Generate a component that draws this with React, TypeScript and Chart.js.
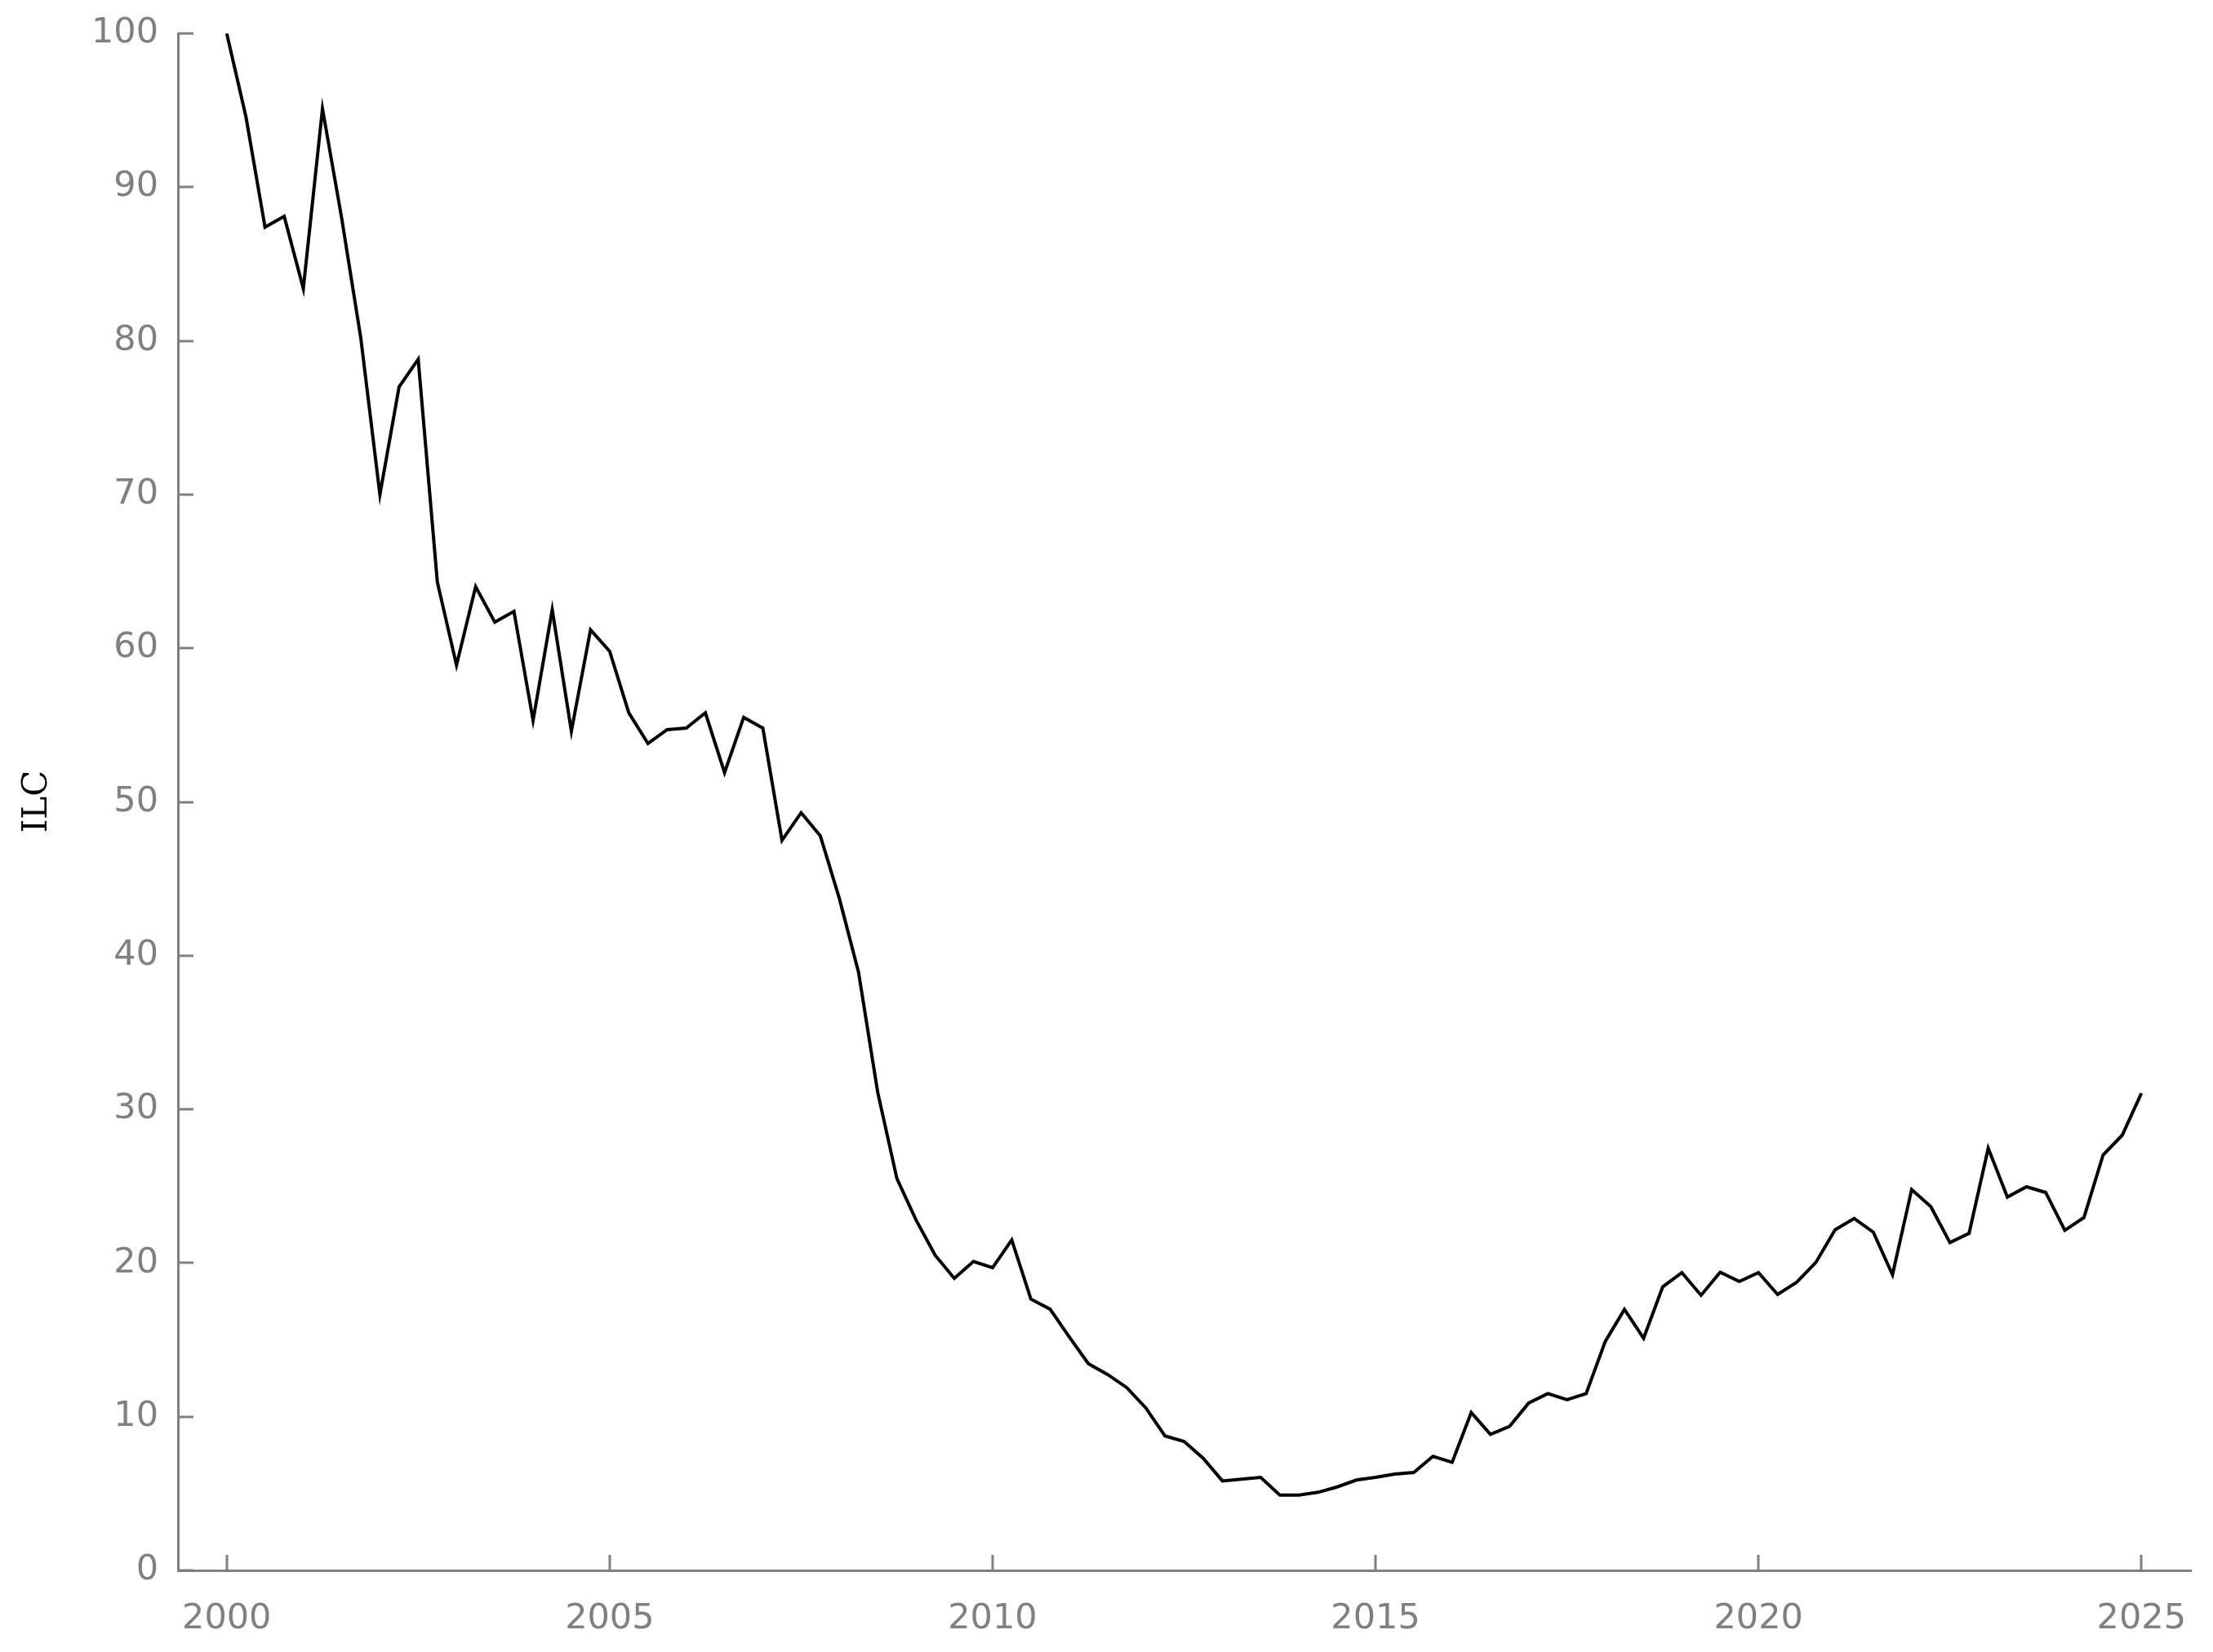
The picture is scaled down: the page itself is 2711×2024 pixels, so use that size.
import React, { useEffect, useRef } from "react";
import { Chart, registerables } from "chart.js";

Chart.register(...registerables);

// Quarterly ILC index values, 2000 Q1 to 2025 Q1
const ilcValues: number[] = [
  100, 94.6, 87.4, 88.1, 83.4, 95.1, 88.0, 80.2, 70.0, 77.0,
  78.8, 64.3, 58.9, 64.0, 61.7, 62.4, 55.3, 62.5, 54.6, 61.2,
  59.8, 55.8, 53.8, 54.7, 54.8, 55.8, 51.9, 55.5, 54.8, 47.5,
  49.3, 47.8, 43.7, 38.9, 31.1, 25.5, 22.8, 20.5, 19.0, 20.1,
  19.7, 21.5, 17.65, 17.0, 15.2, 13.45, 12.75, 11.9, 10.57, 8.75,
  8.39, 7.29, 5.82, 5.93, 6.05, 4.9, 4.9, 5.08, 5.43, 5.88,
  6.05, 6.27, 6.37, 7.42, 7.03, 10.27, 8.85, 9.37, 10.89, 11.5,
  11.1, 11.5, 14.9, 16.98, 15.1, 18.45, 19.37, 17.9, 19.4, 18.8,
  19.37, 17.95, 18.75, 20.04, 22.16, 22.9, 22.0, 19.24, 24.78, 23.67,
  21.33, 21.93, 27.47, 24.29, 24.96, 24.59, 22.13, 22.96, 27.03, 28.32,
  31.05,
];
const startYear = 2000;
const periods: number[] = ilcValues.map((_, i) => startYear + i / 4);

const xTicks: number[] = [2000, 2005, 2010, 2015, 2020, 2025];
const yTicks: number[] = [0, 10, 20, 30, 40, 50, 60, 70, 80, 90, 100];
const yTitle = "ILC";

const AXIS_COLOR = "#808080";

export default function App() {
  const ref = useRef<HTMLCanvasElement | null>(null);

  useEffect(() => {
    if (!ref.current) return;

    const inwardTicks = {
      id: "inwardTicks",
      afterDraw(chart: any) {
        const { ctx, scales } = chart;
        const xs = scales.x;
        const ys = scales.y;
        const axisY = xs.top;
        const axisX = ys.right;
        ctx.save();
        ctx.strokeStyle = AXIS_COLOR;
        ctx.lineWidth = 3;
        ctx.lineCap = "butt";
        ctx.beginPath();
        for (const v of xTicks) {
          const px = Math.round(xs.getPixelForValue(v));
          ctx.moveTo(px, axisY);
          ctx.lineTo(px, axisY - 19);
        }
        for (const v of yTicks) {
          const py = Math.round(ys.getPixelForValue(v));
          ctx.moveTo(axisX, py);
          ctx.lineTo(axisX + 19, py);
        }
        ctx.stroke();
        // y axis title
        ctx.fillStyle = "#000000";
        ctx.font = '42px "DejaVu Serif"';
        ctx.textAlign = "center";
        ctx.textBaseline = "middle";
        ctx.translate(46, 982);
        ctx.rotate(-Math.PI / 2);
        ctx.fillText(yTitle, 0, 0);
        ctx.restore();
      },
    };

    const tickFont = { family: "DejaVu Sans", size: 43 };

    const chart = new Chart(ref.current, {
      type: "line",
      data: {
        datasets: [
          {
            data: periods.map((x, i) => ({ x, y: ilcValues[i] })),
            borderColor: "#000000",
            borderWidth: 4,
            pointRadius: 0,
            tension: 0,
            fill: false,
          },
        ],
      },
      options: {
        animation: false,
        responsive: false,
        devicePixelRatio: 1,
        layout: { padding: { top: 41, right: 27, left: 0, bottom: 0 } },
        plugins: {
          legend: { display: false },
          tooltip: { enabled: false },
          title: { display: false },
        },
        scales: {
          x: {
            type: "linear",
            min: 1999.363,
            max: 2025.647,
            afterBuildTicks: (s: any) => {
              s.ticks = xTicks.map((v) => ({ value: v }));
            },
            afterFit: (s: any) => {
              s.height = 100;
              s.paddingLeft = 0;
              s.paddingRight = 0;
            },
            grid: { display: false, drawTicks: false, tickLength: 0 },
            border: { display: true, color: AXIS_COLOR, width: 3 },
            ticks: {
              color: AXIS_COLOR,
              font: tickFont,
              padding: 34,
              maxRotation: 0,
              autoSkip: false,
              callback: (v: any) => String(v),
            },
          },
          y: {
            type: "linear",
            min: 0,
            max: 100,
            afterBuildTicks: (s: any) => {
              s.ticks = yTicks.map((v) => ({ value: v }));
            },
            afterFit: (s: any) => {
              s.width = 218;
              s.paddingTop = 0;
              s.paddingBottom = 0;
            },
            grid: { display: false, drawTicks: false, tickLength: 0 },
            border: { display: true, color: AXIS_COLOR, width: 3 },
            ticks: {
              color: AXIS_COLOR,
              font: tickFont,
              padding: 24,
              autoSkip: false,
              callback: (v: any) => String(v),
            },
          },
        },
      },
      plugins: [inwardTicks],
    });

    return () => chart.destroy();
  }, []);

  return (
    <div style={{ position: "absolute", left: 0, top: 0, width: 2711, height: 2024, background: "#ffffff" }}>
      <canvas ref={ref} width={2711} height={2024} style={{ display: "block", width: 2711, height: 2024 }} />
    </div>
  );
}
